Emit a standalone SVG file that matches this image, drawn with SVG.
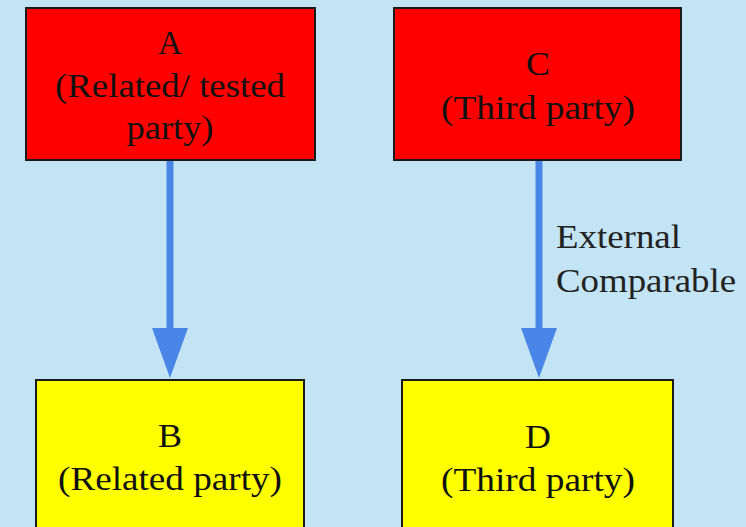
<svg xmlns="http://www.w3.org/2000/svg" width="746" height="527" viewBox="0 0 746 527">
  <defs>
    <style>
      .box { stroke: #1a1a1a; stroke-width: 2; }
      .red { fill: #ff0000; }
      .yellow { fill: #ffff00; }
      .lbl { font-family: "Liberation Serif", "Times New Roman", serif; font-size: 33px; fill: #111; text-anchor: middle; }
      .edge { stroke: #4a86e8; stroke-width: 7; fill: none; }
      .head { fill: #4a86e8; }
      .note { font-family: "Liberation Serif", "Times New Roman", serif; font-size: 33px; fill: #222; }
    </style>
  </defs>
  <rect width="746" height="527" fill="#c3e4f4"/>

  <g id="connectors">
    <line class="edge" x1="170" y1="160" x2="170" y2="332"/>
    <polygon class="head" points="152,328 188,328 170,378"/>
    <line class="edge" x1="539" y1="160" x2="539" y2="332"/>
    <polygon class="head" points="521,328 557,328 539,378"/>
    <text class="note" x="556" y="248" textLength="125" lengthAdjust="spacingAndGlyphs">External</text>
    <text class="note" x="556" y="292" textLength="180" lengthAdjust="spacingAndGlyphs">Comparable</text>
  </g>

  <g id="node-a">
    <rect class="box red" x="26" y="8" width="289" height="152"/>
    <text class="lbl" x="170" y="54" textLength="24" lengthAdjust="spacingAndGlyphs">A</text>
    <text class="lbl" x="170" y="97" textLength="230" lengthAdjust="spacingAndGlyphs">(Related/ tested</text>
    <text class="lbl" x="170" y="139" textLength="87" lengthAdjust="spacingAndGlyphs">party)</text>
  </g>

  <g id="node-c">
    <rect class="box red" x="394" y="8" width="287" height="152"/>
    <text class="lbl" x="538" y="75" textLength="24" lengthAdjust="spacingAndGlyphs">C</text>
    <text class="lbl" x="538" y="119" textLength="194" lengthAdjust="spacingAndGlyphs">(Third party)</text>
  </g>

  <g id="node-b">
    <rect class="box yellow" x="36" y="380" width="268" height="160"/>
    <text class="lbl" x="170" y="447" textLength="24" lengthAdjust="spacingAndGlyphs">B</text>
    <text class="lbl" x="170" y="490" textLength="224" lengthAdjust="spacingAndGlyphs">(Related party)</text>
  </g>

  <g id="node-d">
    <rect class="box yellow" x="402" y="380" width="271" height="160"/>
    <text class="lbl" x="538" y="448" textLength="26" lengthAdjust="spacingAndGlyphs">D</text>
    <text class="lbl" x="538" y="491" textLength="194" lengthAdjust="spacingAndGlyphs">(Third party)</text>
  </g>
</svg>
